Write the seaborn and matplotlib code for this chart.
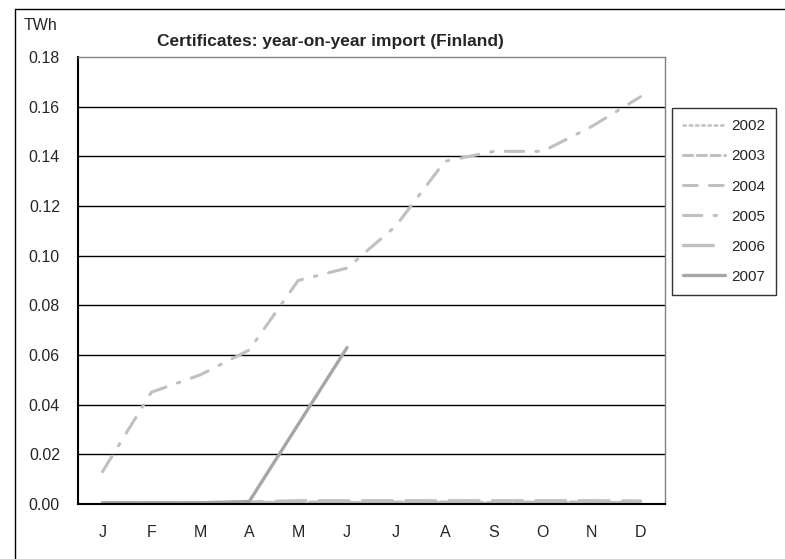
import numpy as np
import pandas as pd
from matplotlib import pyplot as plt
import seaborn as sns

months = ['J', 'F', 'M', 'A', 'M', 'J', 'J', 'A', 'S', 'O', 'N', 'D']
years = ['2002', '2003', '2004', '2005', '2006', '2007']

# TWh
y2002 = [0.0003, 0.0003, 0.0003, 0.0003, 0.0004, 0.0004, 0.0004, 0.0004, 0.0004, 0.0004, 0.0004, 0.0004]
y2003 = [0.0004, 0.0004, 0.0004, 0.0005, 0.0006, 0.0006, 0.0006, 0.0006, 0.0006, 0.0006, 0.0006, 0.0006]
y2004 = [0.0004, 0.0004, 0.0005, 0.0006, 0.0008, 0.0008, 0.0008, 0.0008, 0.0008, 0.0008, 0.0008, 0.0008]
y2005 = [0.013, 0.045, 0.052, 0.062, 0.090, 0.095, 0.112, 0.138, 0.142, 0.142, 0.152, 0.164]
y2006 = [0.0004, 0.0004, 0.0005, 0.0008, 0.0013, 0.0013, 0.0013, 0.0013, 0.0013, 0.0013, 0.0013, 0.0012]
y2007 = [0.0005, 0.0005, 0.0005, 0.001, 0.032, 0.063]

series = {'2002': y2002, '2003': y2003, '2004': y2004,
          '2005': y2005, '2006': y2006, '2007': y2007}

rows = []
for yr, vals in series.items():
    for i, v in enumerate(vals):
        rows.append({'month': i, 'value': v, 'year': yr})
df = pd.DataFrame(rows)

sns.set_style('white')
plt.rcParams['font.family'] = ['Liberation Sans', 'DejaVu Sans']

fig = plt.figure(figsize=(7.85, 5.59), dpi=100)
ax = fig.add_axes([78 / 785, 1 - 504 / 559, 587 / 785, 447 / 559])

light = '#c0c0c0'
palette = {'2002': light, '2003': light, '2004': light,
           '2005': light, '2006': light, '2007': '#a6a6a6'}
dashes = {'2002': (1, 1.5), '2003': (3, 1.5), '2004': (4.5, 4), '2005': (6, 4, 0.8, 4),
          '2006': (9, 4), '2007': ''}
sizes = {'2002': 1.8, '2003': 2.2, '2004': 2.2, '2005': 2.2, '2006': 2.4, '2007': 2.4}

sns.lineplot(data=df, x='month', y='value', hue='year', style='year', size='year',
             palette=palette, dashes=dashes, sizes=sizes, ax=ax,
             solid_capstyle='round', dash_capstyle='round')

ax.set_xlim(-0.5, 11.5)
ax.set_ylim(0, 0.18)
ax.set_yticks(np.arange(0, 0.181, 0.02))
ax.set_yticklabels([f'{v:.2f}' for v in np.arange(0, 0.181, 0.02)])
ax.set_xticks(np.arange(-0.5, 12, 1))
ax.set_xticklabels([])
ax.set_xticks(np.arange(12), minor=True)
ax.set_xticklabels(months, minor=True)
ax.tick_params(axis='x', which='major', length=4, width=1, color='black', direction='out')
ax.tick_params(axis='x', which='minor', length=0, pad=15, labelsize=11.5)
ax.tick_params(axis='y', length=5, width=1, color='black', direction='out', labelsize=11.5, pad=8)
ax.set_xlabel('')
ax.set_ylabel('')

for v in np.arange(0.02, 0.17, 0.02):
    ax.axhline(v, color='black', lw=1.0, zorder=0)

ax.spines['left'].set_color('black')
ax.spines['bottom'].set_color('black')
ax.spines['left'].set_linewidth(1.5)
ax.spines['bottom'].set_linewidth(1.5)
ax.spines['top'].set_color('#808080')
ax.spines['right'].set_color('#808080')
ax.spines['top'].set_linewidth(1.0)
ax.spines['right'].set_linewidth(1.0)

ax.set_title('Certificates: year-on-year import (Finland)', fontsize=12.5,
             fontweight='bold', x=0.43, y=1.025, pad=0)

handles, labels = ax.get_legend_handles_labels()
leg = ax.legend(handles, labels, loc='upper left', bbox_to_anchor=(672 / 785, 1 - 108 / 559),
                bbox_transform=fig.transFigure, borderaxespad=0, frameon=True,
                fancybox=False, edgecolor='black', fontsize=11, handlelength=2.7,
                labelspacing=1.05, handletextpad=0.4, borderpad=0.75)
leg.get_frame().set_linewidth(1.0)

fig.text(24 / 785, 1 - 26 / 559, 'TWh', fontsize=11.5, va='center', ha='left')

# outer chart border
fig.add_artist(plt.Line2D([14.5 / 785, 14.5 / 785], [0, 1 - 8.5 / 559],
                          transform=fig.transFigure, color='black', lw=1))
fig.add_artist(plt.Line2D([14.5 / 785, 1], [1 - 8.5 / 559, 1 - 8.5 / 559],
                          transform=fig.transFigure, color='black', lw=1))

plt.savefig('out.png', dpi=100)
